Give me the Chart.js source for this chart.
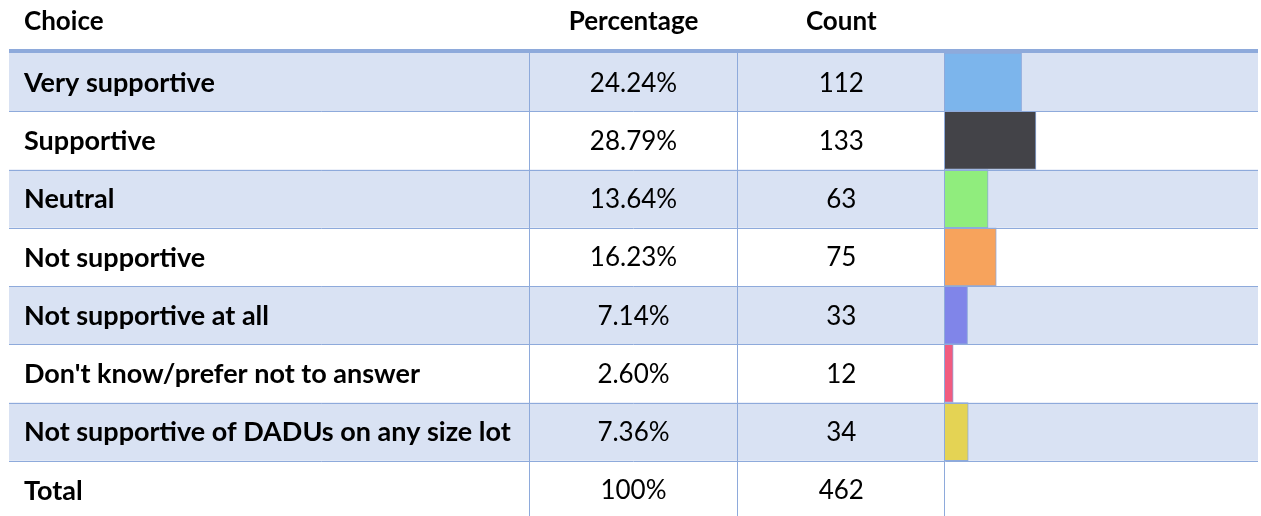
<!DOCTYPE html>
<html>
<head>
<meta charset="utf-8">
<script src="https://cdn.jsdelivr.net/npm/chart.js@4"></script>
<style>
  html, body { margin: 0; padding: 0; background: #fff; overflow: hidden; }
  #wrap { width: 1261px; height: 519px; }
</style>
</head>
<body>
<div id="wrap"><canvas id="chart" width="1261" height="519"></canvas></div>
<script>
const choices = ["Very supportive", "Supportive", "Neutral", "Not supportive", "Not supportive at all",
    "Don't know/prefer not to answer", "Not supportive of DADUs on any size lot", "Total"];
const percentages = [24.24, 28.79, 13.64, 16.23, 7.14, 2.60, 7.36];
const percentLabels = ["24.24%", "28.79%", "13.64%", "16.23%", "7.14%", "2.60%", "7.36%", "100%"];
const counts = [112, 133, 63, 75, 33, 12, 34, 462];
const headers = ["Choice", "Percentage", "Count"];
const barColors = ["#7cb5ec", "#434348", "#90ed7d", "#f7a35c", "#8085e9", "#f15c80", "#e4d354"];

const FONT = "Lato, 'Open Sans', sans-serif";
const LINE = "#8eaadb";
const FILL = "#d9e2f3";
const TABLE_LEFT = 9, TABLE_RIGHT = 1258;
const COL_LINES = [529.5, 737.5];

// draws the table (row fills, grid lines, text) around the bar column
const tablePlugin = {
    id: "table",
    beforeDatasetsDraw(chart) {
        const ctx = chart.ctx, y = chart.scales.y;
        ctx.save();
        choices.forEach((c, i) => {
            if (i % 2 === 0 && i < choices.length - 1) {
                const top = y.getPixelForValue(i) - y.height / choices.length / 2;
                ctx.fillStyle = FILL;
                ctx.fillRect(TABLE_LEFT, top, TABLE_RIGHT - TABLE_LEFT, y.height / choices.length);
            }
        });
        ctx.restore();
    },
    afterDatasetsDraw(chart) {
        const ctx = chart.ctx, y = chart.scales.y, area = chart.chartArea;
        const rowH = y.height / choices.length;
        ctx.save();
        ctx.strokeStyle = LINE;
        ctx.lineWidth = 1;
        // horizontal row separators
        for (let i = 1; i < choices.length; i++) {
            const py = Math.round(y.getPixelForValue(i) - rowH / 2) + 0.5;
            ctx.beginPath();
            ctx.moveTo(TABLE_LEFT, py);
            ctx.lineTo(TABLE_RIGHT, py);
            ctx.stroke();
        }
        // vertical column lines
        [...COL_LINES, Math.round(area.left) - 0.5].forEach(px => {
            ctx.beginPath();
            ctx.moveTo(px, area.top);
            ctx.lineTo(px, chart.height);
            ctx.stroke();
        });
        // thick header rule
        ctx.fillStyle = LINE;
        ctx.fillRect(TABLE_LEFT, area.top - 4, TABLE_RIGHT - TABLE_LEFT, 4);

        // header text
        ctx.fillStyle = "#000";
        ctx.textBaseline = "middle";
        ctx.font = "bold 26px " + FONT;
        ctx.textAlign = "left";
        ctx.fillText(headers[0], 24, 22);
        ctx.textAlign = "center";
        ctx.fillText(headers[1], (COL_LINES[0] + COL_LINES[1]) / 2, 22);
        ctx.fillText(headers[2], (COL_LINES[1] + area.left) / 2, 22);

        // row text
        choices.forEach((c, i) => {
            const cy = y.getPixelForValue(i) + 1;
            ctx.font = "bold 27px " + FONT;
            ctx.textAlign = "left";
            ctx.fillText(c, 24, cy);
            ctx.font = "26px " + FONT;
            ctx.textAlign = "center";
            ctx.fillText(percentLabels[i], (COL_LINES[0] + COL_LINES[1]) / 2, cy);
            ctx.fillText(String(counts[i]), (COL_LINES[1] + area.left) / 2, cy);
        });
        ctx.restore();
    }
};

new Chart(document.getElementById("chart"), {
    type: "bar",
    data: {
        labels: choices,
        datasets: [{
            data: [...percentages, null],
            backgroundColor: barColors,
            borderColor: LINE,
            borderWidth: 1,
            barPercentage: 1,
            categoryPercentage: 1
        }]
    },
    options: {
        indexAxis: "y",
        responsive: false,
        animation: false,
        layout: { padding: { left: 945, top: 53, right: 0, bottom: 0 } },
        plugins: { legend: { display: false }, tooltip: { enabled: false } },
        scales: {
            x: { display: false, min: 0, max: 100 },
            y: { display: false, grid: { display: false } }
        }
    },
    plugins: [tablePlugin]
});
</script>
</body>
</html>
